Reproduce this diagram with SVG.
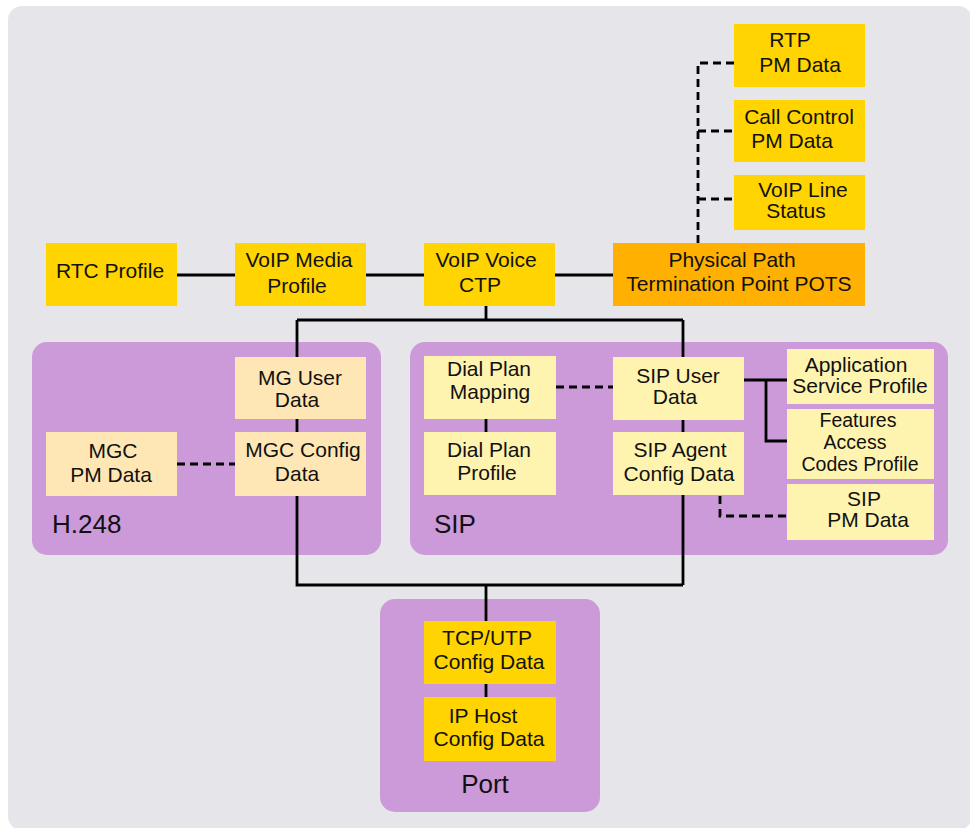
<svg xmlns="http://www.w3.org/2000/svg" width="970" height="828" viewBox="0 0 970 828">
<style>
text{font-family:"Liberation Sans",Arial,Helvetica,sans-serif;font-size:21px;fill:#111;text-anchor:middle}
.grp{fill:#cc99d9}
.y{fill:#ffd400}
.o{fill:#ffb000}
.ly{fill:#fff3b0}
.pk{fill:#ffe6b5}
.lbl{font-size:26px;text-anchor:start}
.sm{font-size:19.5px}
.s{stroke:#000;stroke-width:2.8;fill:none}
.d{stroke:#000;stroke-width:2.8;fill:none;stroke-dasharray:8 5}
</style>
<rect x="8" y="6" width="964" height="824" rx="14" fill="#e6e5ea"/>

<g id="group-h248"><rect class="grp" x="32" y="342" width="349" height="213" rx="15"/><text class="lbl" x="52" y="533">H.248</text></g>
<g id="group-sip"><rect class="grp" x="410" y="342" width="538" height="213" rx="15"/><text class="lbl" x="434" y="533">SIP</text></g>
<g id="group-port"><rect class="grp" x="380" y="599" width="220" height="213" rx="15"/><text class="lbl" x="485" y="793" style="text-anchor:middle">Port</text></g>

<g id="connectors">
<path class="s" d="M177 275H235M366 275H424M555 275H613"/>
<path class="s" d="M486 306V320M297 320H683M297 320V357M297 419V432M297 496V585H683M683 320V357M683 420V432M683 495V585M486 585V621M486 684V697"/>
<path class="s" d="M486 419V432M744 380H787M766 380V441H787"/>
<path class="d" d="M698 243V63H734M698 131H734M698 199H734"/>
<path class="d" d="M177 464H235M556 387H613M720 496V516H787"/>
</g>

<g id="rtp-pm"><rect class="y" x="734" y="24" width="131" height="63"/><text x="790" y="47">RTP</text><text x="800" y="72">PM Data</text></g>
<g id="call-control-pm"><rect class="y" x="734" y="100" width="131" height="62"/><text x="799" y="124">Call Control</text><text x="792" y="148">PM Data</text></g>
<g id="voip-line-status"><rect class="y" x="734" y="175" width="131" height="55"/><text x="803" y="197">VoIP Line</text><text x="796" y="218">Status</text></g>
<g id="pptp-pots"><rect class="o" x="613" y="243" width="252" height="63"/><text x="732" y="267">Physical Path</text><text x="739" y="291">Termination Point POTS</text></g>
<g id="voip-voice-ctp"><rect class="y" x="424" y="243" width="131" height="63"/><text x="486" y="267">VoIP Voice</text><text x="480" y="292">CTP</text></g>
<g id="voip-media-profile"><rect class="y" x="235" y="243" width="131" height="63"/><text x="299" y="267">VoIP Media</text><text x="297" y="293">Profile</text></g>
<g id="rtc-profile"><rect class="y" x="46" y="243" width="131" height="63"/><text x="110" y="278">RTC Profile</text></g>

<g id="mg-user-data"><rect class="pk" x="235" y="357" width="131" height="62"/><text x="300" y="385">MG User</text><text x="297" y="407">Data</text></g>
<g id="mgc-config-data"><rect class="pk" x="235" y="432" width="131" height="64"/><text x="303" y="457">MGC Config</text><text x="297" y="481">Data</text></g>
<g id="mgc-pm-data"><rect class="pk" x="46" y="432" width="131" height="64"/><text x="113" y="458">MGC</text><text x="111" y="482">PM Data</text></g>

<g id="dial-plan-mapping"><rect class="ly" x="424" y="356" width="132" height="63"/><text x="489" y="376">Dial Plan</text><text x="490" y="399">Mapping</text></g>
<g id="dial-plan-profile"><rect class="ly" x="424" y="432" width="132" height="63"/><text x="489" y="457">Dial Plan</text><text x="487" y="480">Profile</text></g>
<g id="sip-user-data"><rect class="ly" x="613" y="357" width="131" height="63"/><text x="678" y="383">SIP User</text><text x="675" y="404">Data</text></g>
<g id="sip-agent-config"><rect class="ly" x="613" y="432" width="131" height="63"/><text x="680" y="457">SIP Agent</text><text x="679" y="481">Config Data</text></g>
<g id="app-service-profile"><rect class="ly" x="787" y="349" width="147" height="55"/><text x="856" y="372">Application</text><text x="860" y="393">Service Profile</text></g>
<g id="features-access-codes"><rect class="ly" x="787" y="409" width="147" height="70"/><text class="sm" x="858" y="427">Features</text><text class="sm" x="855" y="449">Access</text><text class="sm" x="860" y="471">Codes Profile</text></g>
<g id="sip-pm-data"><rect class="ly" x="787" y="484" width="147" height="56"/><text x="864" y="506">SIP</text><text x="868" y="527">PM Data</text></g>

<g id="tcp-utp-config"><rect class="y" x="424" y="621" width="132" height="63"/><text x="487" y="645">TCP/UTP</text><text x="489" y="669">Config Data</text></g>
<g id="ip-host-config"><rect class="y" x="424" y="697" width="132" height="64"/><text x="483" y="723">IP Host</text><text x="489" y="746">Config Data</text></g>
</svg>
